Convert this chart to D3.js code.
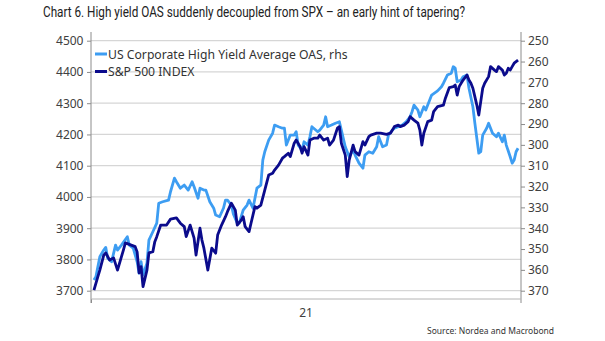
<!DOCTYPE html>
<html>
<head>
<meta charset="utf-8">
<script src="https://cdn.jsdelivr.net/npm/d3@7"></script>
<style>
  body { margin: 0; background: #fff; }
  text { font-family: 'Noto Sans', sans-serif; }
</style>
</head>
<body>
<div id="chart"></div>
<script>
const spxDates = [
  '2021-01-04', '2021-01-06', '2021-01-07', '2021-01-09', '2021-01-10', '2021-01-12', '2021-01-14', '2021-01-16', '2021-01-19', '2021-01-20', '2021-01-23', '2021-01-25', '2021-01-26', '2021-01-27', '2021-01-28', '2021-01-29', '2021-01-31',
  '2021-02-01', '2021-02-03', '2021-02-04', '2021-02-05', '2021-02-07', '2021-02-10', '2021-02-12', '2021-02-15', '2021-02-17', '2021-02-19', '2021-02-20', '2021-02-22', '2021-02-24', '2021-02-25', '2021-02-27', '2021-02-28',
  '2021-03-01', '2021-03-03', '2021-03-05', '2021-03-07', '2021-03-08', '2021-03-10', '2021-03-12', '2021-03-13', '2021-03-15', '2021-03-17', '2021-03-18', '2021-03-20', '2021-03-21', '2021-03-22', '2021-03-24', '2021-03-25', '2021-03-27', '2021-03-28', '2021-03-30',
  '2021-04-01', '2021-04-03', '2021-04-05', '2021-04-06', '2021-04-08', '2021-04-10', '2021-04-11', '2021-04-13', '2021-04-14', '2021-04-16', '2021-04-17', '2021-04-19', '2021-04-20', '2021-04-21', '2021-04-23', '2021-04-24', '2021-04-26', '2021-04-28', '2021-04-29',
  '2021-05-01', '2021-05-03', '2021-05-04', '2021-05-06', '2021-05-08', '2021-05-09', '2021-05-10', '2021-05-12', '2021-05-13', '2021-05-14', '2021-05-16', '2021-05-17', '2021-05-19', '2021-05-21', '2021-05-22', '2021-05-24', '2021-05-25', '2021-05-28', '2021-05-30',
  '2021-06-02', '2021-06-04', '2021-06-05', '2021-06-06', '2021-06-08', '2021-06-09', '2021-06-11', '2021-06-13', '2021-06-14', '2021-06-16', '2021-06-18', '2021-06-19', '2021-06-20', '2021-06-21', '2021-06-23', '2021-06-25', '2021-06-26', '2021-06-28',
  '2021-07-01', '2021-07-02', '2021-07-04', '2021-07-06', '2021-07-07', '2021-07-08', '2021-07-09', '2021-07-11', '2021-07-13', '2021-07-14', '2021-07-15', '2021-07-16', '2021-07-17', '2021-07-18', '2021-07-19', '2021-07-20', '2021-07-21', '2021-07-22', '2021-07-24', '2021-07-25', '2021-07-27', '2021-07-28', '2021-07-29', '2021-07-31',
  '2021-08-01', '2021-08-02', '2021-08-03', '2021-08-04', '2021-08-05', '2021-08-06', '2021-08-07', '2021-08-08'
];
const spxValues = [
  3702, 3745, 3766, 3814, 3821, 3798, 3805, 3766, 3830, 3853, 3846, 3841, 3824, 3757, 3777, 3713, 3766,
  3821, 3825, 3857, 3873, 3910, 3910, 3929, 3933, 3916, 3905, 3873, 3910, 3868, 3814, 3900, 3862,
  3836, 3766, 3836, 3820, 3878, 3910, 3937, 3953, 3980, 3958, 3910, 3926, 3937, 3905, 3889, 3916, 3969, 3964, 3974,
  4022, 4070, 4076, 4086, 4102, 4124, 4129, 4140, 4129, 4172, 4182, 4161, 4140, 4161, 4134, 4182, 4188, 4188, 4198,
  4182, 4188, 4166, 4182, 4220, 4225, 4172, 4134, 4065, 4118, 4166, 4145, 4134, 4177, 4166, 4193, 4198, 4204, 4204,
  4200, 4204, 4214, 4225, 4230, 4225, 4230, 4241, 4257, 4246, 4236, 4214, 4166, 4204, 4241, 4246, 4273, 4289,
  4294, 4316, 4350, 4353, 4358, 4326, 4353, 4374, 4390, 4374, 4364, 4348, 4321, 4294, 4262, 4305, 4348, 4364, 4385, 4417, 4406, 4401, 4417, 4406,
  4390, 4396, 4412, 4406, 4417, 4428, 4433, 4438
];

const oasDates = [
  '2021-01-04', '2021-01-05', '2021-01-07', '2021-01-09', '2021-01-10', '2021-01-11', '2021-01-13', '2021-01-15', '2021-01-16', '2021-01-18', '2021-01-21', '2021-01-22', '2021-01-24', '2021-01-26', '2021-01-27', '2021-01-28', '2021-01-29', '2021-01-31',
  '2021-02-01', '2021-02-03', '2021-02-05', '2021-02-06', '2021-02-08', '2021-02-11', '2021-02-12', '2021-02-14', '2021-02-15', '2021-02-17', '2021-02-19', '2021-02-21', '2021-02-23', '2021-02-24', '2021-02-26', '2021-02-27',
  '2021-03-01', '2021-03-02', '2021-03-04', '2021-03-06', '2021-03-07', '2021-03-09', '2021-03-11', '2021-03-12', '2021-03-13', '2021-03-15', '2021-03-16', '2021-03-18', '2021-03-19', '2021-03-21', '2021-03-23', '2021-03-24', '2021-03-26', '2021-03-28', '2021-03-30', '2021-03-31',
  '2021-04-01', '2021-04-03', '2021-04-05', '2021-04-06', '2021-04-08', '2021-04-10', '2021-04-11', '2021-04-12', '2021-04-14', '2021-04-16', '2021-04-17', '2021-04-18', '2021-04-20', '2021-04-21', '2021-04-23', '2021-04-24', '2021-04-25', '2021-04-28', '2021-04-29',
  '2021-05-01', '2021-05-02', '2021-05-03', '2021-05-05', '2021-05-07', '2021-05-09', '2021-05-10', '2021-05-12', '2021-05-14', '2021-05-16', '2021-05-17', '2021-05-19', '2021-05-21', '2021-05-22', '2021-05-24', '2021-05-26', '2021-05-28', '2021-05-29', '2021-05-31',
  '2021-06-02', '2021-06-03', '2021-06-05', '2021-06-06', '2021-06-08', '2021-06-10', '2021-06-12', '2021-06-14', '2021-06-15', '2021-06-16', '2021-06-18', '2021-06-19', '2021-06-21', '2021-06-22', '2021-06-24', '2021-06-25', '2021-06-28', '2021-06-30',
  '2021-07-01', '2021-07-03', '2021-07-05', '2021-07-06', '2021-07-07', '2021-07-08', '2021-07-10', '2021-07-11', '2021-07-13', '2021-07-14', '2021-07-16', '2021-07-17', '2021-07-18', '2021-07-19', '2021-07-20', '2021-07-21', '2021-07-23', '2021-07-24', '2021-07-26', '2021-07-28', '2021-07-29', '2021-07-31',
  '2021-08-01', '2021-08-02', '2021-08-04', '2021-08-05', '2021-08-06', '2021-08-07', '2021-08-08'
];
const oasValues = [
  364.9, 363.3, 353.7, 350.5, 349.2, 354.4, 356.1, 348.1, 350.5, 348.1, 344.1, 348.1, 349.6, 356.1, 361.6, 356.1, 362.5, 356.8,
  345.7, 341.7, 337.6, 328.0, 327.3, 326.5, 322.5, 316.0, 317.7, 320.8, 319.3, 321.7, 317.7, 320.1, 325.6, 320.8,
  321.7, 321.7, 327.3, 330.4, 333.7, 334.5, 330.3, 326.5, 326.5, 328.9, 333.2, 337.6, 337.6, 331.3, 328.9, 326.5, 330.4, 320.8, 319.3, 307.3,
  303.3, 297.7, 294.4, 290.5, 291.3, 292.0, 292.0, 300.1, 295.3, 295.3, 293.7, 300.1, 302.5, 298.5, 300.1, 296.1, 291.3, 293.7, 292.9,
  290.5, 286.5, 291.3, 290.5, 289.6, 288.9, 292.9, 300.9, 305.7, 302.5, 304.9, 308.8, 311.2, 304.9, 303.3, 304.0, 300.9, 296.1, 300.9,
  300.1, 295.3, 292.9, 292.0, 291.3, 290.5, 288.9, 286.5, 284.1, 280.9, 283.3, 286.5, 281.7, 283.3, 278.5, 276.1, 274.1, 272.1,
  270.4, 266.5, 265.6, 262.5, 263.2, 269.7, 268.9, 267.3, 266.5, 272.8, 281.7, 289.6, 296.8, 304.0, 303.3, 295.3, 292.0, 289.6, 294.4, 296.1, 294.4, 298.5,
  295.3, 300.1, 305.7, 308.8, 307.3, 303.3, 301.6
];

const seriesNames = ['US Corporate High Yield Average OAS, rhs', 'S&P 500 INDEX'];
const leftTicks = [3700, 3800, 3900, 4000, 4100, 4200, 4300, 4400, 4500];
const rightTicks = [250, 260, 270, 280, 290, 300, 310, 320, 330, 340, 350, 360, 370];
const yearLabel = '21';

const width = 605;
const height = 341;
const plot = { left: 91, right: 521, top: 40.7, bottom: 290.7 };
const oasColor = '#3d9df2';
const spxColor = '#0b0b8c';

const parse = d3.timeParse('%Y-%m-%d');

const svg = d3.select('#chart')
  .append('svg')
  .attr('width', width)
  .attr('height', height);

const x = d3.scaleTime()
  .domain([new Date(2021, 0, 2, 12), new Date(2021, 7, 9, 12)])
  .range([plot.left, plot.right]);

const yLeft = d3.scaleLinear()
  .domain([3700, 4500])
  .range([plot.bottom, plot.top]);

const yRight = d3.scaleLinear()
  .domain([370, 250])
  .range([plot.bottom, plot.top]);

// grid
svg.append('g')
  .selectAll('line')
  .data(leftTicks)
  .enter()
    .append('line')
    .attr('x1', plot.left)
    .attr('x2', plot.right)
    .attr('y1', (d) => yLeft(d))
    .attr('y2', (d) => yLeft(d))
    .attr('stroke', '#d6d6d6')
    .attr('stroke-width', 1.3);

// axes
const leftAxis = svg.append('g')
  .attr('transform', `translate(${plot.left},0)`)
  .call(d3.axisLeft(yLeft)
    .tickValues(leftTicks)
    .tickFormat(d3.format('d'))
    .tickSizeInner(4)
    .tickSizeOuter(0)
    .tickPadding(3.5));

const rightAxis = svg.append('g')
  .attr('transform', `translate(${plot.right},0)`)
  .call(d3.axisRight(yRight)
    .tickValues(rightTicks)
    .tickFormat(d3.format('d'))
    .tickSizeInner(4)
    .tickSizeOuter(0)
    .tickPadding(3));

const bottomAxis = svg.append('g')
  .attr('transform', `translate(0,299)`)
  .call(d3.axisBottom(x).tickValues([x.domain()[0]]).tickFormat('').tickSizeInner(4).tickSizeOuter(0));

[leftAxis, rightAxis, bottomAxis].forEach((g) => {
  g.attr('font-family', null).attr('font-size', null);
  g.select('.domain').remove();
  g.selectAll('.tick line').attr('stroke', '#8c8c8c');
  g.selectAll('.tick text')
    .attr('fill', '#404040')
    .style('font-size', '12px');
});

svg.append('line')
  .attr('x1', plot.left).attr('x2', plot.left)
  .attr('y1', 32).attr('y2', 303)
  .attr('stroke', '#8c8c8c');

svg.append('line')
  .attr('x1', plot.right).attr('x2', plot.right)
  .attr('y1', 32).attr('y2', 303)
  .attr('stroke', '#8c8c8c');

svg.append('line')
  .attr('x1', plot.left).attr('x2', plot.right)
  .attr('y1', 299).attr('y2', 299)
  .attr('stroke', '#b4b4b4');

svg.append('text')
  .attr('x', (plot.left + plot.right) / 2)
  .attr('y', 317)
  .attr('text-anchor', 'middle')
  .attr('fill', '#404040')
  .style('font-size', '12px')
  .text(yearLabel);

// lines
const oasPoints = oasDates.map((d, i) => ({ date: parse(d), value: oasValues[i] }));
const spxPoints = spxDates.map((d, i) => ({ date: parse(d), value: spxValues[i] }));

const oasLine = d3.line()
  .x((d) => x(d.date))
  .y((d) => yRight(d.value));

const spxLine = d3.line()
  .x((d) => x(d.date))
  .y((d) => yLeft(d.value));

svg.append('path')
  .attr('fill', 'none')
  .attr('stroke', oasColor)
  .attr('stroke-width', 2.8)
  .attr('stroke-linejoin', 'round')
  .attr('d', oasLine(oasPoints));

svg.append('path')
  .attr('fill', 'none')
  .attr('stroke', spxColor)
  .attr('stroke-width', 2.8)
  .attr('stroke-linejoin', 'round')
  .attr('d', spxLine(spxPoints));

// legend
const legend = svg.append('g')
  .selectAll('g')
  .data(seriesNames)
  .enter()
    .append('g')
    .attr('transform', (d, i) => `translate(95,${54 + i * 17.5})`);

legend.append('line')
  .attr('x1', 0)
  .attr('x2', 12)
  .attr('stroke', (d, i) => (i === 0 ? oasColor : spxColor))
  .attr('stroke-width', 3);

legend.append('text')
  .attr('x', 13)
  .attr('y', 4.5)
  .attr('fill', '#333')
  .style('font-size', '12.2px')
  .text((d) => d);

// title and source
svg.append('text')
  .attr('x', 43)
  .attr('y', 17)
  .attr('fill', '#222')
  .attr('textLength', 422)
  .attr('lengthAdjust', 'spacingAndGlyphs')
  .style('font-family', 'Roboto, sans-serif')
  .style('font-size', '15px')
  .text('Chart 6. High yield OAS suddenly decoupled from SPX – an early hint of tapering?');

svg.append('text')
  .attr('x', 427)
  .attr('y', 334)
  .attr('fill', '#333')
  .style('font-size', '8.5px')
  .text('Source: Nordea and Macrobond');
</script>
</body>
</html>
